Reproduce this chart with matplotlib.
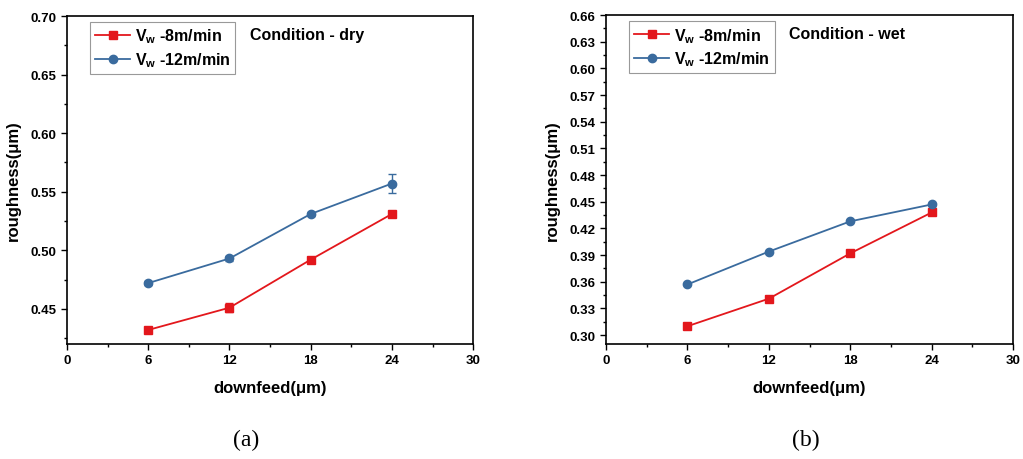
import matplotlib
matplotlib.use("Agg")
import matplotlib.pyplot as plt
from matplotlib.ticker import MultipleLocator
from matplotlib.lines import Line2D

plt.rcParams['font.family'] = ['Liberation Sans', 'DejaVu Sans']
plt.rcParams['mathtext.fontset'] = 'custom'
plt.rcParams['mathtext.rm'] = 'Liberation Sans'
plt.rcParams['mathtext.bf'] = 'Liberation Sans:bold'
plt.rcParams['mathtext.it'] = 'Liberation Sans:italic'

downfeed = [6, 12, 18, 24]
dry_8 = [0.432, 0.451, 0.492, 0.531]
dry_8_err = [0.0015, 0.004, 0.0015, 0.0015]
dry_12 = [0.472, 0.493, 0.531, 0.557]
dry_12_err = [0.0015, 0.002, 0.0015, 0.008]
wet_8 = [0.310, 0.341, 0.392, 0.438]
wet_8_err = [0.001, 0.001, 0.001, 0.002]
wet_12 = [0.357, 0.394, 0.428, 0.447]
wet_12_err = [0.001, 0.001, 0.001, 0.002]

labels = [r'$\mathbf{V_w}$ -8m/min', r'$\mathbf{V_w}$ -12m/min']
conditions = ['Condition - dry', 'Condition - wet']
captions = ['(a)', '(b)']
caption_x = [0.2405, 0.788]

RED = '#E3171C'
BLUE = '#3A6B9E'

fig = plt.figure(figsize=(10.23, 4.60), dpi=100)
ax1 = fig.add_axes([0.0655, 0.25, 0.397, 0.713])
ax2 = fig.add_axes([0.5924, 0.25, 0.398, 0.715])

panels = [
    (ax1, dry_8, dry_8_err, dry_12, dry_12_err, (0.42, 0.70), 0.05, 0.025),
    (ax2, wet_8, wet_8_err, wet_12, wet_12_err, (0.29, 0.66), 0.03, 0.015),
]

for i, (ax, r, re, b, be, ylim, major, minor) in enumerate(panels):
    ax.errorbar(downfeed, r, yerr=re, color=RED, marker='s', markersize=5.5,
                linewidth=1.3, capsize=3, elinewidth=1)
    ax.errorbar(downfeed, b, yerr=be, color=BLUE, marker='o', markersize=6,
                linewidth=1.3, capsize=3, elinewidth=1)
    ax.set_xlim(0, 30)
    ax.set_ylim(*ylim)
    ax.xaxis.set_major_locator(MultipleLocator(6))
    ax.xaxis.set_minor_locator(MultipleLocator(3))
    ax.yaxis.set_major_locator(MultipleLocator(major))
    ax.yaxis.set_minor_locator(MultipleLocator(minor))
    ax.tick_params(which='both', direction='out', top=False, right=False,
                   labelsize=9.5, width=1)
    ax.tick_params(which='major', length=4)
    ax.tick_params(which='minor', length=2.5)
    for lab in ax.get_xticklabels() + ax.get_yticklabels():
        lab.set_fontweight('bold')
    for s in ax.spines.values():
        s.set_linewidth(1.2)
    ax.set_xlabel('downfeed(μm)', fontsize=12, fontweight='bold', labelpad=10)
    ax.set_ylabel('roughness(μm)', fontsize=12, fontweight='bold', labelpad=7)
    handles = [
        Line2D([], [], color=RED, marker='s', markersize=5.5, linewidth=1.3),
        Line2D([], [], color=BLUE, marker='o', markersize=6, linewidth=1.3),
    ]
    leg = ax.legend(handles, labels, loc='upper left',
                    bbox_to_anchor=(0.057, 0.982),
                    borderaxespad=0, fancybox=False, edgecolor='#999999',
                    prop={'weight': 'bold', 'size': 11.5}, handlelength=2.2,
                    handletextpad=0.3, borderpad=0.3, labelspacing=0.3,
                    framealpha=1)
    leg.get_frame().set_linewidth(0.8)
    ax.text(0.45, 0.945, conditions[i], transform=ax.transAxes, fontsize=11.5,
            fontweight='bold', va='center', ha='left')
    fig.text(caption_x[i], 0.042, captions[i], fontsize=17,
             family='Liberation Serif', ha='center', va='center')

fig.savefig('out.png', dpi=100)
